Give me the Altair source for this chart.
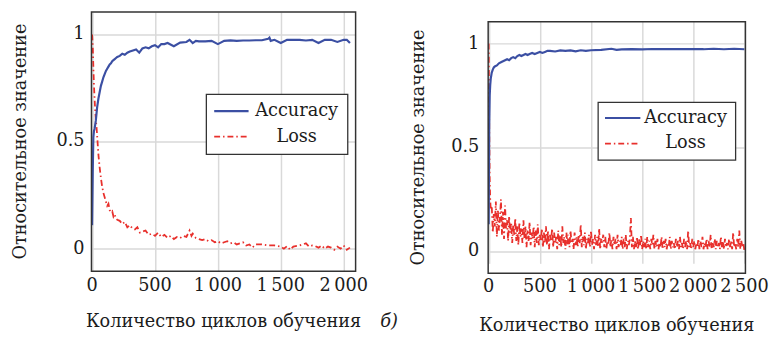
import altair as alt
import pandas as pd

# ---------------- data ----------------
series_names = ["Accuracy", "Loss"]
x_title = "Количество циклов обучения"
y_title = "Относительное значение"
panel_label = "б)"
x_ticks_a = [0, 500, 1000, 1500, 2000]
x_ticks_b = [0, 500, 1000, 1500, 2000, 2500]
y_ticks = [0, 0.5, 1]

# left panel
acc_a_x = [
    0, 5, 10, 15, 20, 25, 30, 40, 50, 60,
    70, 80, 90, 100, 110, 120, 130, 140, 150, 160,
    170, 180, 190, 200, 220, 240, 260, 280, 300, 325,
    350, 375, 400, 425, 450, 475, 500, 525, 550, 575,
    600, 650, 700, 750, 775, 800, 825, 850, 900, 950,
    1000, 1050, 1100, 1150, 1200, 1250, 1300, 1350, 1400, 1410,
    1420, 1450, 1500, 1550, 1600, 1650, 1700, 1750, 1800, 1850,
    1900, 1950, 2000, 2025, 2050]
acc_a_y = [
    0.11, 0.35, 0.52, 0.55, 0.56, 0.58, 0.60, 0.66, 0.70, 0.73,
    0.76, 0.78, 0.80, 0.815, 0.83, 0.84, 0.85, 0.86, 0.865, 0.875,
    0.88, 0.885, 0.89, 0.895, 0.90, 0.91, 0.905, 0.915, 0.92, 0.925,
    0.93, 0.915, 0.935, 0.94, 0.935, 0.945, 0.95, 0.94, 0.955, 0.955,
    0.96, 0.945, 0.962, 0.965, 0.975, 0.96, 0.97, 0.968, 0.968, 0.97,
    0.955, 0.97, 0.972, 0.97, 0.972, 0.972, 0.973, 0.973, 0.98, 0.985,
    0.97, 0.975, 0.96, 0.975, 0.975, 0.975, 0.972, 0.975, 0.96, 0.975,
    0.975, 0.965, 0.975, 0.975, 0.96]

loss_a_x = [
    0, 5, 10, 15, 20, 25, 30, 35, 40, 50,
    60, 70, 80, 90, 100, 110, 120, 130, 140, 150,
    160, 170, 180, 190, 200, 220, 240, 260, 280, 300,
    320, 340, 360, 380, 400, 425, 450, 475, 500, 525,
    550, 575, 600, 625, 650, 675, 700, 725, 750, 775,
    790, 800, 825, 850, 875, 900, 925, 950, 975, 1000,
    1025, 1050, 1075, 1100, 1125, 1150, 1175, 1200, 1225, 1250,
    1275, 1300, 1350, 1400, 1450, 1500, 1525, 1550, 1575, 1600,
    1650, 1700, 1725, 1750, 1775, 1800, 1825, 1850, 1875, 1900,
    1925, 1950, 1975, 2000, 2025, 2050]
loss_a_y = [
    1.0, 0.95, 0.85, 0.76, 0.70, 0.64, 0.60, 0.57, 0.53, 0.44,
    0.38, 0.33, 0.29, 0.26, 0.24, 0.22, 0.20, 0.21, 0.18, 0.17,
    0.175, 0.15, 0.16, 0.14, 0.135, 0.13, 0.115, 0.125, 0.10, 0.11,
    0.095, 0.09, 0.10, 0.075, 0.08, 0.085, 0.065, 0.07, 0.06, 0.075,
    0.055, 0.065, 0.05, 0.06, 0.045, 0.055, 0.05, 0.06, 0.055, 0.085,
    0.06, 0.07, 0.05, 0.045, 0.04, 0.045, 0.035, 0.04, 0.03, 0.035,
    0.025, 0.03, 0.035, 0.025, 0.03, 0.02, 0.025, 0.03, 0.015, 0.02,
    0.005, 0.02, 0.02, 0.015, 0.015, 0.01, 0.0, 0.012, -0.005, 0.01,
    0.015, 0.025, 0.01, 0.015, 0.012, 0.005, 0.015, 0.0, 0.01, 0.005,
    -0.005, 0.01, 0.0, 0.015, -0.005, 0.005]

# right panel
acc_b_x = [
    0, 5, 10, 15, 20, 30, 40, 50, 60, 80,
    100, 120, 140, 160, 180, 200, 220, 240, 260, 280,
    300, 320, 340, 360, 380, 400, 425, 450, 475, 500,
    525, 550, 575, 600, 650, 700, 750, 800, 850, 900,
    950, 1000, 1100, 1200, 1250, 1300, 1400, 1500, 1600, 1700,
    1800, 1900, 2000, 2100, 2200, 2300, 2400, 2500]
acc_b_y = [
    0.13, 0.60, 0.75, 0.80, 0.83, 0.86, 0.875, 0.885, 0.89, 0.895,
    0.905, 0.91, 0.915, 0.92, 0.925, 0.92, 0.93, 0.935, 0.93, 0.94,
    0.945, 0.94, 0.945, 0.95, 0.945, 0.95, 0.955, 0.95, 0.955, 0.96,
    0.955, 0.96, 0.965, 0.965, 0.962, 0.967, 0.965, 0.967, 0.963, 0.968,
    0.965, 0.968, 0.97, 0.975, 0.97, 0.972, 0.973, 0.972, 0.974, 0.973,
    0.974, 0.973, 0.974, 0.973, 0.975, 0.973, 0.975, 0.973]

loss_b_x = [
    0, 3, 6, 10, 15, 20,
    30, 40, 50, 60, 70, 80, 90, 100, 110, 120,
    130, 140, 150, 160, 170, 180, 190, 200, 210, 220,
    230, 240, 250, 260, 270, 280, 290, 300, 310, 320,
    330, 340, 350, 360, 370, 380, 390, 400, 410, 420,
    430, 440, 450, 460, 470, 480, 490, 500, 510, 520,
    530, 540, 550, 560, 570, 580, 590, 600, 610, 620,
    630, 640, 650, 660, 670, 680, 690, 700, 710, 720,
    730, 740, 750, 760, 770, 780, 790, 800, 810, 820,
    830, 840, 850, 860, 870, 880, 890, 900, 910, 920,
    930, 940, 950, 960, 970, 980, 990, 1000, 1010, 1020,
    1030, 1040, 1050, 1060, 1070, 1080, 1090, 1100, 1110, 1120,
    1130, 1140, 1150, 1160, 1170, 1180, 1190, 1200, 1210, 1220,
    1230, 1240, 1250, 1260, 1270, 1280, 1290, 1300, 1310, 1320,
    1330, 1340, 1350, 1360, 1370, 1380, 1390, 1400, 1410, 1420,
    1430, 1440, 1450, 1460, 1470, 1480, 1490, 1500, 1510, 1520,
    1530, 1540, 1550, 1560, 1570, 1580, 1590, 1600, 1610, 1620,
    1630, 1640, 1650, 1660, 1670, 1680, 1690, 1700, 1710, 1720,
    1730, 1740, 1750, 1760, 1770, 1780, 1790, 1800, 1810, 1820,
    1830, 1840, 1850, 1860, 1870, 1880, 1890, 1900, 1910, 1920,
    1930, 1940, 1950, 1960, 1970, 1980, 1990, 2000, 2010, 2020,
    2030, 2040, 2050, 2060, 2070, 2080, 2090, 2100, 2110, 2120,
    2130, 2140, 2150, 2160, 2170, 2180, 2190, 2200, 2210, 2220,
    2230, 2240, 2250, 2260, 2270, 2280, 2290, 2300, 2310, 2320,
    2330, 2340, 2350, 2360, 2370, 2380, 2390, 2400, 2410, 2420,
    2430, 2440, 2450, 2460, 2470, 2480, 2490, 2500]
loss_b_y = [
    1.0, 0.80, 0.55, 0.35, 0.25, 0.20,
    0.22, 0.09, 0.18, 0.12, 0.24, 0.07, 0.20, 0.10, 0.16, 0.25,
    0.08, 0.19, 0.06, 0.22, 0.11, 0.15, 0.05, 0.17, 0.09, 0.14,
    0.04, 0.13, 0.08, 0.16, 0.05, 0.12, 0.03, 0.14, 0.07, 0.11,
    0.04, 0.15, 0.06, 0.12, 0.02, 0.10, 0.05, 0.14, 0.03, 0.09,
    0.06, 0.12, 0.02, 0.10, 0.04, 0.13, 0.03, 0.08, 0.05, 0.11,
    0.02, 0.09, 0.04, 0.12, 0.03, 0.10, 0.01, 0.08, 0.05, 0.11,
    0.02, 0.09, 0.04, 0.07, 0.01, 0.10, 0.03, 0.08, 0.02, 0.12,
    0.04, 0.07, 0.01, 0.09, 0.03, 0.08, 0.02, 0.10, 0.04, 0.06,
    0.01, 0.09, 0.03, 0.07, 0.02, 0.08, 0.04, 0.13, 0.02, 0.07,
    0.03, 0.09, 0.01, 0.06, 0.04, 0.08, 0.02, 0.10, 0.03, 0.06,
    0.01, 0.08, 0.03, 0.07, 0.02, 0.11, 0.01, 0.06, 0.04, 0.08,
    0.02, 0.07, 0.01, 0.05, 0.03, 0.09, 0.02, 0.06, 0.01, 0.07,
    0.03, 0.06, 0.01, 0.08, 0.02, 0.05, 0.03, 0.07, 0.01, 0.06,
    0.02, 0.08, 0.01, 0.05, 0.03, 0.06, 0.16, 0.02, 0.07, 0.01,
    0.05, 0.02, 0.07, 0.01, 0.06, 0.03, 0.08, 0.01, 0.05, 0.02,
    0.06, 0.01, 0.07, 0.02, 0.05, 0.01, 0.06, 0.03, 0.08, 0.01,
    0.05, 0.02, 0.06, 0.01, 0.04, 0.02, 0.07, 0.01, 0.05, 0.02,
    0.06, 0.01, 0.04, 0.02, 0.07, 0.01, 0.05, 0.02, 0.04, 0.01,
    0.06, 0.02, 0.05, 0.01, 0.07, 0.02, 0.04, 0.01, 0.06, 0.02,
    0.05, 0.01, 0.10, 0.02, 0.04, 0.01, 0.06, 0.02, 0.05, 0.01,
    0.04, 0.02, 0.06, 0.01, 0.05, 0.02, 0.07, 0.01, 0.04, 0.02,
    0.06, 0.01, 0.05, 0.02, 0.08, 0.01, 0.04, 0.02, 0.06, 0.01,
    0.05, 0.02, 0.04, 0.01, 0.07, 0.02, 0.05, 0.01, 0.06, 0.02,
    0.04, 0.01, 0.06, 0.02, 0.05, 0.01, 0.09, 0.02, 0.04, 0.01,
    0.06, 0.02, 0.10, 0.01, 0.05, 0.02, 0.04, 0.00]

# ---------------- styling ----------------
BLUE = "#3b4fa3"
RED = "#e8302c"
FONT = "'DejaVu Serif', serif"
FS = 18
DASHDOT = [6, 3, 1.5, 3]
FRAME = "#333333"
TXT = "#1c1c1c"


def txt(**kw):
    base = dict(font=FONT, fontSize=FS, color=TXT, align="center", baseline="middle")
    base.update(kw)
    return base


def panel(acc_x, acc_y, loss_x, loss_y, xdom, xticks, w, h, top,
          ylab_dx, xlab_dy, xtitle_y, ytitle_x, legend_box, legend_line, legend_rows, legend_cx):
    """top = offset of the frame inside the group (used to lower the right panel)."""
    acc = pd.DataFrame({"x": acc_x, "y": acc_y})
    loss = pd.DataFrame({"x": loss_x, "y": loss_y})
    xs = alt.Scale(domain=xdom, nice=False, zero=False)
    ys = alt.Scale(domain=[-0.105, 1.105], nice=False, zero=False, range=[h, top])
    grid = dict(grid=True, labels=False, ticks=False, domain=False, title=None,
                gridColor="#d9d9d9", gridWidth=1.5)
    xax = alt.Axis(values=xticks, **grid)
    yax = alt.Axis(values=y_ticks, **grid)
    one = pd.DataFrame({"s": ["frame"]})
    layers = []
    if top > 0:
        layers.append(alt.Chart(one).mark_rect(fill="white").encode(
            x=alt.value(-1), x2=alt.value(w + 1), y=alt.value(-1), y2=alt.value(top)))
    red = alt.Chart(loss).mark_line(color=RED, strokeWidth=1.8, strokeDash=DASHDOT, clip=True).encode(
        x=alt.X("x:Q", scale=xs, axis=xax),
        y=alt.Y("y:Q", scale=ys, axis=yax),
        order="x:Q")
    blue = alt.Chart(acc).mark_line(color=BLUE, strokeWidth=2.2, clip=True).encode(
        x=alt.X("x:Q", scale=xs, axis=xax), y=alt.Y("y:Q", scale=ys, axis=yax), order="x:Q")
    frame = alt.Chart(one).mark_rect(fill=None, stroke=FRAME, strokeWidth=1.5).encode(
        x=alt.value(0), x2=alt.value(w), y=alt.value(top), y2=alt.value(h))
    layers += [red, blue, frame]

    # tick labels and titles, placed through the same scales
    xl = alt.Chart(pd.DataFrame({"v": xticks})).transform_calculate(
        lab="replace(format(datum.v, ','), ',', '\u2009')").mark_text(**txt()).encode(
        x=alt.X("v:Q", scale=xs, axis=xax), y=alt.value(h + xlab_dy), text="lab:N")
    yl = alt.Chart(pd.DataFrame({"v": y_ticks})).transform_calculate(
        lab="datum.v + ''").mark_text(**txt(align="right")).encode(
        y=alt.Y("v:Q", scale=ys, axis=yax), x=alt.value(-ylab_dx), text="lab:N")
    xt = alt.Chart(pd.DataFrame({"t": [x_title]})).mark_text(**txt()).encode(
        text="t:N", x=alt.value(w / 2), y=alt.value(xtitle_y))
    yt = alt.Chart(pd.DataFrame({"t": [y_title]})).mark_text(**txt(angle=270)).encode(
        text="t:N", x=alt.value(ytitle_x), y=alt.value((h + top) / 2))
    layers += [xl, yl, xt, yt]

    bx1, by1, bx2, by2 = legend_box
    box = alt.Chart(one).mark_rect(fill="white", stroke=FRAME, strokeWidth=1.3).encode(
        x=alt.value(bx1), x2=alt.value(bx2), y=alt.value(by1), y2=alt.value(by2))
    layers.append(box)
    lx1, lx2 = legend_line
    for name, ry, col, dash, sw in zip(series_names, legend_rows, [BLUE, RED], [[1, 0], DASHDOT], [2.2, 1.8]):
        d = pd.DataFrame({"s": [name]})
        layers.append(alt.Chart(d).mark_rule(color=col, strokeWidth=sw, strokeDash=dash).encode(
            x=alt.value(lx1), x2=alt.value(lx2), y=alt.value(ry)))
        layers.append(alt.Chart(d).mark_text(**txt()).encode(
            text="s:N", x=alt.value(legend_cx), y=alt.value(ry)))
    return layers


left_layers = panel(acc_a_x, acc_a_y, loss_a_x, loss_a_y, [-5, 2095], x_ticks_a, 269, 264, 0,
                    7, 15, 316, -72, (117, 84, 261, 145), (125, 160), (101, 127), 209)
left = alt.layer(*left_layers).properties(width=269, height=264)

right_layers = panel(acc_b_x, acc_b_y, loss_b_x, loss_b_y, [-5, 2510], x_ticks_b, 262, 266, 10,
                     9, 14, 320, -70, (112, 92, 252, 151), (119, 155), (108, 134), 201)
lab = alt.Chart(pd.DataFrame({"t": [panel_label]})).mark_text(
    **txt(fontStyle="italic")).encode(
    text="t:N", x=alt.value(-101), y=alt.value(316))
right = alt.layer(*right_layers, lab).properties(width=262, height=266)

chart = alt.hconcat(left, right, spacing=135, bounds="flush").properties(
    padding={"left": 3, "top": 0, "right": 0, "bottom": 0}
).configure(font=FONT).configure_view(strokeWidth=0)

chart.save("out.html", embed_options={"renderer": "svg", "actions": False})
